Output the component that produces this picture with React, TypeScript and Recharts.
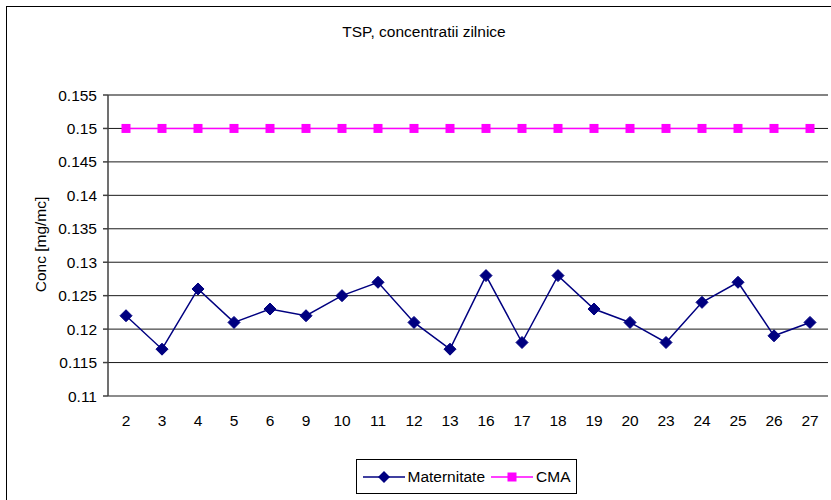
import React from "react";
import {
  LineChart,
  Line,
  XAxis,
  YAxis,
  CartesianGrid,
  Legend,
  ReferenceLine,
} from "recharts";

const days = ["2", "3", "4", "5", "6", "9", "10", "11", "12", "13", "16", "17", "18", "19", "20", "23", "24", "25", "26", "27"];
const maternitate = [0.122, 0.117, 0.126, 0.121, 0.123, 0.122, 0.125, 0.127, 0.121, 0.117, 0.128, 0.118, 0.128, 0.123, 0.121, 0.118, 0.124, 0.127, 0.119, 0.121];
const cma = [0.15, 0.15, 0.15, 0.15, 0.15, 0.15, 0.15, 0.15, 0.15, 0.15, 0.15, 0.15, 0.15, 0.15, 0.15, 0.15, 0.15, 0.15, 0.15, 0.15];
const yTicks = [0.11, 0.115, 0.12, 0.125, 0.13, 0.135, 0.14, 0.145, 0.15, 0.155];
const boundaryTicks = Array.from({ length: days.length + 1 }, (_, i) => i);

const data = days.map((day, i) => ({
  day,
  maternitate: maternitate[i],
  cma: cma[i],
}));

const FONT = '"Liberation Sans", Arial, sans-serif';
const FS = 15.5;
const NAVY = "#000080";
const MAGENTA = "#FF00FF";

const Diamond = (props: any) => {
  const { cx, cy } = props;
  if (cx == null || cy == null) return null;
  const r = 6;
  return (
    <polygon
      points={`${cx},${cy - r} ${cx + r},${cy} ${cx},${cy + r} ${cx - r},${cy}`}
      fill={NAVY}
      stroke={NAVY}
    />
  );
};

const Square = (props: any) => {
  const { cx, cy } = props;
  if (cx == null || cy == null) return null;
  return <rect x={cx - 4.5} y={cy - 4.5} width={9} height={9} fill={MAGENTA} />;
};

const YLabel = (props: any) => {
  const { viewBox } = props;
  const cy = viewBox.y + viewBox.height / 2 - 1;
  const cx = 40;
  return (
    <text
      x={cx}
      y={cy}
      transform={`rotate(-90, ${cx}, ${cy})`}
      textAnchor="middle"
      dominantBaseline="central"
      fontSize={FS}
      fontFamily={FONT}
      fill="#000"
    >
      Conc [mg/mc]
    </text>
  );
};

const LegendBox = () => (
  <div
    style={{
      border: "1px solid #000",
      height: 35,
      display: "flex",
      alignItems: "center",
      justifyContent: "center",
      gap: 6,
      fontFamily: FONT,
      fontSize: FS,
      background: "#fff",
      boxSizing: "border-box",
    }}
  >
    <span style={{ display: "flex", alignItems: "center", gap: 3 }}>
      <svg width={42} height={14}>
        <line x1={0} y1={7} x2={42} y2={7} stroke={NAVY} strokeWidth={1.5} />
        <polygon points="21,1 27,7 21,13 15,7" fill={NAVY} />
      </svg>
      Maternitate
    </span>
    <span style={{ display: "flex", alignItems: "center", gap: 3 }}>
      <svg width={42} height={14}>
        <line x1={0} y1={7} x2={42} y2={7} stroke={MAGENTA} strokeWidth={1.5} />
        <rect x={16.5} y={2.5} width={9} height={9} fill={MAGENTA} />
      </svg>
      CMA
    </span>
  </div>
);

export default function App() {
  return (
    <div
      style={{
        position: "absolute",
        left: 0,
        top: 0,
        width: 831,
        height: 500,
        overflow: "hidden",
        background: "#fff",
      }}
    >
      <div
        style={{
          position: "absolute",
          left: 6,
          top: 6,
          width: 860,
          height: 520,
          border: "1.5px solid #000",
        }}
      />
      <div
        style={{
          position: "absolute",
          left: 0,
          top: 23,
          width: 848,
          textAlign: "center",
          fontFamily: FONT,
          fontSize: FS,
          color: "#000",
        }}
      >
        TSP, concentratii zilnice
      </div>
      <div style={{ position: "absolute", left: 0, top: 0 }}>
        <LineChart
          width={831}
          height={500}
          data={data}
          margin={{ top: 95, right: 3, bottom: 74, left: 0 }}
        >
          <CartesianGrid vertical={false} stroke="#000" strokeOpacity={0.9} />
          <XAxis
            xAxisId="bounds"
            type="number"
            domain={[0, days.length]}
            ticks={boundaryTicks}
            allowDataOverflow
            height={0}
            tickSize={5}
            tickFormatter={() => ""}
            stroke="#404040"
            strokeWidth={1.5}
            tickLine={{ stroke: "#404040" }}
          />
          <XAxis
            dataKey="day"
            height={30}
            padding={{ left: 18, right: 18 }}
            axisLine={false}
            tickLine={false}
            tickSize={9}
            tickMargin={10}
            interval={0}
            tick={{ fontSize: FS, fontFamily: FONT, fill: "#000" }}
          />
          <YAxis
            width={108}
            domain={[0.11, 0.155]}
            ticks={yTicks}
            allowDataOverflow
            interval={0}
            stroke="#404040"
            strokeWidth={1.5}
            tickSize={5}
            tickMargin={6}
            tick={{ fontSize: FS, fontFamily: FONT, fill: "#000" }}
            label={<YLabel />}
          />
          <ReferenceLine y={0.155} stroke="#808080" strokeWidth={1.5} />
          <ReferenceLine xAxisId="bounds" x={days.length} stroke="#808080" strokeWidth={1.5} />
          <Legend
            layout="horizontal"
            verticalAlign="middle"
            align="center"
            wrapperStyle={{ left: 356, top: 459, width: 221, height: 35 }}
            content={<LegendBox />}
          />
          <Line
            dataKey="maternitate"
            name="Maternitate"
            stroke={NAVY}
            strokeWidth={1.5}
            dot={<Diamond />}
            activeDot={false}
            isAnimationActive={false}
          />
          <Line
            dataKey="cma"
            name="CMA"
            stroke={MAGENTA}
            strokeWidth={1.5}
            dot={<Square />}
            activeDot={false}
            isAnimationActive={false}
          />
        </LineChart>
      </div>
    </div>
  );
}
